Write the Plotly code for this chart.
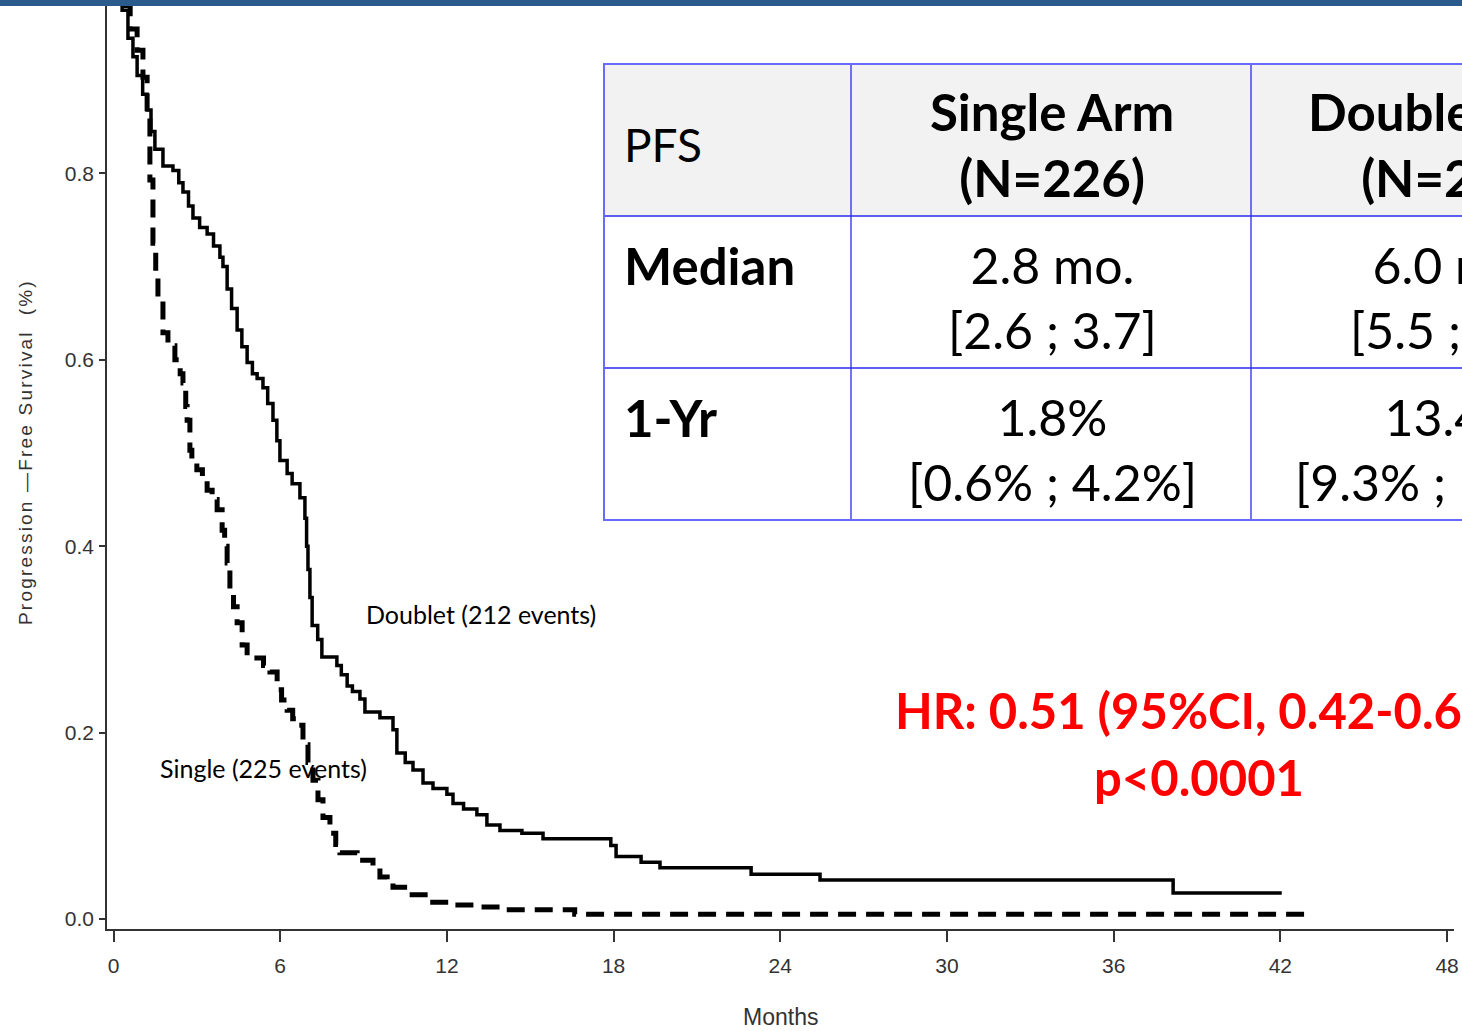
import plotly.graph_objects as go

# ---- Kaplan-Meier step data (months, survival proportion after each step) ----
doublet_t = [0, 0.15, 0.31, 0.52, 0.70, 0.85, 1.05, 1.21, 1.35, 1.49, 1.78, 2.14, 2.35, 2.50,
             2.70, 2.86, 3.10, 3.37, 3.60, 3.83, 3.94, 4.09, 4.25, 4.45, 4.62, 4.81, 5.00, 5.17,
             5.38, 5.55, 5.74, 5.88, 5.99, 6.25, 6.43, 6.71, 6.89, 6.95, 7.00, 7.07, 7.15, 7.35,
             7.50, 8.04, 8.20, 8.41, 8.60, 8.87, 9.05, 9.59, 10.06, 10.20, 10.50, 10.78, 11.14,
             11.50, 12.00, 12.22, 12.60, 13.08, 13.44, 13.91, 14.70, 15.46, 17.90, 18.09, 18.99,
             19.67, 22.95, 25.43, 38.14, 42.05]
doublet_s = [1.0, 0.99, 0.975, 0.945, 0.925, 0.905, 0.885, 0.868, 0.845, 0.826, 0.808, 0.803,
             0.790, 0.780, 0.765, 0.752, 0.742, 0.735, 0.722, 0.710, 0.700, 0.676, 0.655, 0.632,
             0.614, 0.597, 0.585, 0.580, 0.570, 0.553, 0.535, 0.513, 0.492, 0.478, 0.467, 0.452,
             0.430, 0.400, 0.375, 0.345, 0.315, 0.300, 0.281, 0.272, 0.262, 0.250, 0.244, 0.236,
             0.222, 0.216, 0.203, 0.178, 0.168, 0.160, 0.146, 0.140, 0.134, 0.124, 0.118, 0.112,
             0.101, 0.095, 0.092, 0.086, 0.079, 0.067, 0.061, 0.055, 0.048, 0.042, 0.028, 0.028]

single_t = [0, 0.30, 0.60, 0.85, 1.06, 1.21, 1.31, 1.42, 1.52, 1.60, 1.78, 1.96, 2.21, 2.40,
            2.50, 2.60, 2.65, 2.75, 2.82, 3.00, 3.20, 3.37, 3.55, 3.73, 3.91, 4.00, 4.09, 4.19,
            4.32, 4.45, 4.63, 4.81, 5.40, 5.63, 5.89, 6.05, 6.25, 6.45, 6.64, 6.82, 7.00, 7.18,
            7.36, 7.54, 7.79, 8.00, 8.15, 8.77, 9.34, 9.59, 9.85, 10.06, 10.57, 11.39, 12.10,
            13.08, 13.90, 16.60, 42.93]
single_s = [1.0, 0.98, 0.955, 0.932, 0.903, 0.863, 0.793, 0.725, 0.690, 0.664, 0.629, 0.615,
            0.600, 0.585, 0.575, 0.550, 0.535, 0.503, 0.490, 0.482, 0.470, 0.460, 0.450, 0.439,
            0.417, 0.400, 0.382, 0.350, 0.335, 0.318, 0.294, 0.280, 0.272, 0.265, 0.246, 0.235,
            0.224, 0.215, 0.208, 0.187, 0.168, 0.149, 0.128, 0.109, 0.092, 0.080, 0.071, 0.063,
            0.056, 0.045, 0.040, 0.034, 0.026, 0.018, 0.015, 0.013, 0.010, 0.005, 0.005]

x_ticks = [0, 6, 12, 18, 24, 30, 36, 42, 48]
y_ticks = [0.0, 0.2, 0.4, 0.6, 0.8]

# ---- summary table contents ----
table_header = ["PFS", "Single Arm<br>(N=226)", "Doublet Arm<br>(N=225)"]
table_rows = [
    ["Median", "2.8 mo.<br>[2.6 ; 3.7]", "6.0 mo.<br>[5.5 ; 6.9]"],
    ["1-Yr", "1.8%<br>[0.6% ; 4.2%]", "13.4%<br>[9.3% ; 18.7%]"],
]
hr_lines = ["HR: 0.51 (95%CI, 0.42-0.61)", "p<0.0001"]
doublet_label = "Doublet (212 events)"
single_label = "Single (225 events)"

# ---- figure geometry (pixels) ----
W, H = 1462, 1031
ML, MR, MT, MB = 107, 8, 0, 102
PW, PH = W - ML - MR, H - MT - MB


def px(xp):
    return (xp - ML) / PW


def py(yp):
    return (MT + PH - yp) / PH


AX_FONT = "Liberation Sans, Arial, sans-serif"
TXT_FONT = "Lato, Open Sans, sans-serif"
GREY = "#333333"

fig = go.Figure()
fig.add_trace(go.Scatter(
    x=doublet_t, y=doublet_s, mode="lines", line_shape="hv",
    line=dict(color="black", width=3.5), name="Doublet", showlegend=False,
))
fig.add_trace(go.Scatter(
    x=single_t, y=single_s, mode="lines", line_shape="hv",
    line=dict(color="black", width=5, dash="18px,10px"), name="Single", showlegend=False,
))

shapes = []
annotations = []

# table cells
col_edges = [604, 851, 1251, 1700]
row_edges = [64, 216, 368, 520]
shapes.append(dict(type="rect", xref="paper", yref="paper",
                   x0=px(col_edges[0]), x1=px(col_edges[-1]),
                   y0=py(row_edges[0]), y1=py(row_edges[1]),
                   fillcolor="#f2f2f2", line=dict(width=0), layer="above"))
for yy in row_edges[1:-1]:
    shapes.append(dict(type="line", xref="paper", yref="paper",
                       x0=px(col_edges[0]), x1=px(col_edges[-1]), y0=py(yy), y1=py(yy),
                       line=dict(color="#2a2aee", width=1.3), layer="above"))
for xx in col_edges[1:-1]:
    shapes.append(dict(type="line", xref="paper", yref="paper",
                       x0=px(xx), x1=px(xx), y0=py(row_edges[0]), y1=py(row_edges[-1]),
                       line=dict(color="#2a2aee", width=1.3), layer="above"))
shapes.append(dict(type="rect", xref="paper", yref="paper",
                   x0=px(col_edges[0]), x1=px(col_edges[-1]),
                   y0=py(row_edges[0]), y1=py(row_edges[-1]),
                   line=dict(color="#6a6aff", width=2), fillcolor="rgba(0,0,0,0)", layer="above"))

# top banner
shapes.append(dict(type="rect", xref="paper", yref="paper",
                   x0=-0.2, x1=1.2, y0=py(6), y1=py(-4),
                   fillcolor="#2b5b8c", line=dict(width=0), layer="above"))

col_centers = [None, 1052, 1454]
row_centers = [145, 297, 449]
all_rows = [table_header] + table_rows
for r, row in enumerate(all_rows):
    for c, txt in enumerate(row):
        if c == 0:
            annotations.append(dict(
                xref="paper", yref="paper", x=px(622), y=py(145 if r == 0 else row_centers[r] - 32),
                xanchor="left", yanchor="middle", showarrow=False,
                text=txt if r == 0 else "<b>%s</b>" % txt,
                font=dict(family=TXT_FONT, size=46 if r == 0 else 51, color="black"),
            ))
        else:
            annotations.append(dict(
                xref="paper", yref="paper", x=px(col_centers[c]), y=py(row_centers[r]),
                xanchor="center", yanchor="middle", showarrow=False, align="center",
                text="<b>%s</b>" % txt if r == 0 else txt,
                font=dict(family=TXT_FONT, size=51 if r == 0 else 50, color="black"),
            ))

# curve labels
annotations.append(dict(xref="paper", yref="paper", x=px(364), y=py(614),
                        xanchor="left", yanchor="middle", showarrow=False,
                        text=doublet_label, font=dict(family=TXT_FONT, size=25, color="black")))
annotations.append(dict(xref="paper", yref="paper", x=px(158), y=py(768),
                        xanchor="left", yanchor="middle", showarrow=False,
                        text=single_label, font=dict(family=TXT_FONT, size=25, color="black")))

# hazard ratio
for i, (line_txt, yc) in enumerate(zip(hr_lines, [710, 777])):
    annotations.append(dict(xref="paper", yref="paper", x=px(1199), y=py(yc),
                            xanchor="center", yanchor="middle", showarrow=False,
                            text="<b>%s</b>" % line_txt,
                            font=dict(family=TXT_FONT, size=49, color="#ff0000")))

# axis titles
annotations.append(dict(xref="paper", yref="paper", x=px(25), y=py(452),
                        xanchor="center", yanchor="middle", showarrow=False, textangle=-90,
                        text='<span style="letter-spacing:2.2px">Progression \u2014Free Survival  (%)</span>',
                        font=dict(family=AX_FONT, size=19, color=GREY)))
annotations.append(dict(xref="paper", yref="paper", x=px(780), y=py(1017),
                        xanchor="center", yanchor="middle", showarrow=False,
                        text="Months", font=dict(family=AX_FONT, size=23, color=GREY)))

fig.update_layout(
    width=W, height=H,
    margin=dict(l=ML, r=MR, t=MT, b=MB, autoexpand=False),
    paper_bgcolor="white", plot_bgcolor="white",
    shapes=shapes, annotations=annotations,
    xaxis=dict(range=[-0.234, 48.25], tickvals=x_ticks, ticktext=[str(v) for v in x_ticks],
               showgrid=False, zeroline=False, showline=True, linecolor=GREY, linewidth=1.5,
               ticks="outside", ticklen=11, tickwidth=1.5, tickcolor=GREY,
               ticklabelstandoff=6,
               tickfont=dict(family=AX_FONT, size=21, color=GREY)),
    yaxis=dict(range=[-0.0107, 0.986], tickvals=y_ticks, ticktext=["%.1f" % v for v in y_ticks],
               showgrid=False, zeroline=False, showline=True, linecolor=GREY, linewidth=1.5,
               ticks="outside", ticklen=6, tickwidth=1.5, tickcolor=GREY,
               ticklabelstandoff=1,
               tickfont=dict(family=AX_FONT, size=21, color=GREY)),
)

fig.write_html("out.html")
